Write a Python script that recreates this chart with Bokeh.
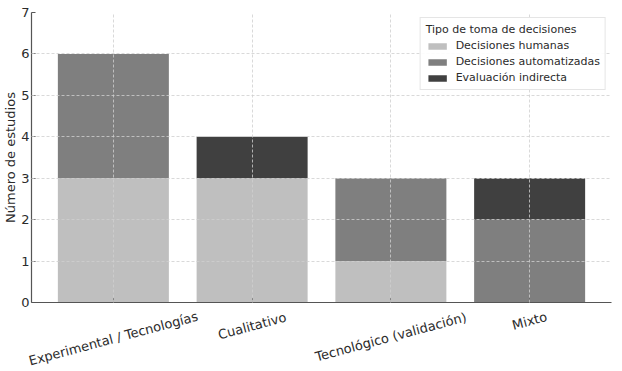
import math
from bokeh.plotting import figure
from bokeh.models import (FactorRange, Range1d, Legend, LegendItem, FixedTicker,
                          ColumnDataSource)
from bokeh.core.properties import value
from bokeh.embed import file_html
from bokeh.resources import INLINE

categories = ["Experimental / Tecnologías", "Cualitativo", "Tecnológico (validación)", "Mixto"]
humanas = [3, 3, 1, 0]
automatizadas = [3, 0, 2, 2]
indirecta = [0, 1, 0, 1]
series = ["Decisiones humanas", "Decisiones automatizadas", "Evaluación indirecta"]
colors = ["#bfbfbf", "#7f7f7f", "#404040"]
y_ticks = [0, 1, 2, 3, 4, 5, 6, 7]

FONT = "DejaVu Sans"
TXT = "#2b2b2b"
TICK_FS = 13
ROT = math.radians(15)

src = ColumnDataSource(dict(cat=categories, h=humanas, a=automatizadas, e=indirecta))

p = figure(x_range=FactorRange(*categories, range_padding=0.045),
           y_range=Range1d(0, 7),
           frame_width=580, frame_height=290,
           output_backend="svg", toolbar_location=None,
           min_border_left=0, min_border_right=9, min_border_top=12, min_border_bottom=69)

rs = p.vbar_stack(["h", "a", "e"], x="cat", width=0.8, source=src,
                  color=colors, line_color=None)

p.outline_line_color = None
p.background_fill_color = "white"

for g in (p.xgrid, p.ygrid):
    g.grid_line_color = "#cfcfcf"
    g.grid_line_dash = "3 2"
    g.grid_line_width = 0.8
    g.level = "guide"

p.yaxis.ticker = FixedTicker(ticks=y_ticks)
p.yaxis.axis_label = "Número de estudios"
p.yaxis.axis_label_text_font = FONT
p.yaxis.axis_label_text_font_style = "normal"
p.yaxis.axis_label_text_font_size = f"{TICK_FS}px"
p.yaxis.axis_label_text_color = TXT
p.yaxis.axis_label_standoff = 0

for ax in (p.xaxis, p.yaxis):
    ax.major_label_text_font = FONT
    ax.major_label_text_font_size = f"{TICK_FS}px"
    ax.major_label_text_color = TXT
    ax.axis_line_color = "#555555"
    ax.axis_line_width = 1.2
    ax.major_tick_out = 0
    ax.major_tick_in = 4
    ax.major_tick_line_color = "#555555"
    ax.minor_tick_line_color = None
    ax.major_label_standoff = 2

# x tick labels: centred, rotated 15 degrees, placed at each factor
p.xaxis.major_label_text_color = None
p.xaxis.major_label_text_font_size = "1px"
gap = 7
line_h = 15
avg_char = 6.5
yoffs = [(gap + (len(c) * avg_char * math.sin(ROT) + line_h * math.cos(ROT)) / 2)
         for c in categories]
lab_src = ColumnDataSource(dict(cat=categories, y=[0] * len(categories), yoff=yoffs))
p.text(x="cat", y="y", text="cat", source=lab_src, y_offset="yoff",
       angle=ROT, text_align="center", text_baseline="middle",
       text_font=value(FONT), text_font_size=f"{TICK_FS}px", text_color=TXT,
       level="overlay")

items = [LegendItem(label=s, renderers=[r]) for s, r in zip(series, rs)]
legend = Legend(items=items, location="top_right",
                title="Tipo de toma de decisiones",
                title_text_font=FONT, title_text_font_size="11px",
                title_text_font_style="normal", title_text_color=TXT,
                title_standoff=3,
                label_text_font=FONT, label_text_font_size="11px",
                label_text_color=TXT, label_standoff=7,
                glyph_width=23, glyph_height=8, label_height=12,
                spacing=3, padding=5, margin=5,
                border_line_color="#cccccc", border_line_width=1,
                background_fill_alpha=0.9)
p.add_layout(legend)

open("out.html", "w").write(file_html(p, INLINE))
